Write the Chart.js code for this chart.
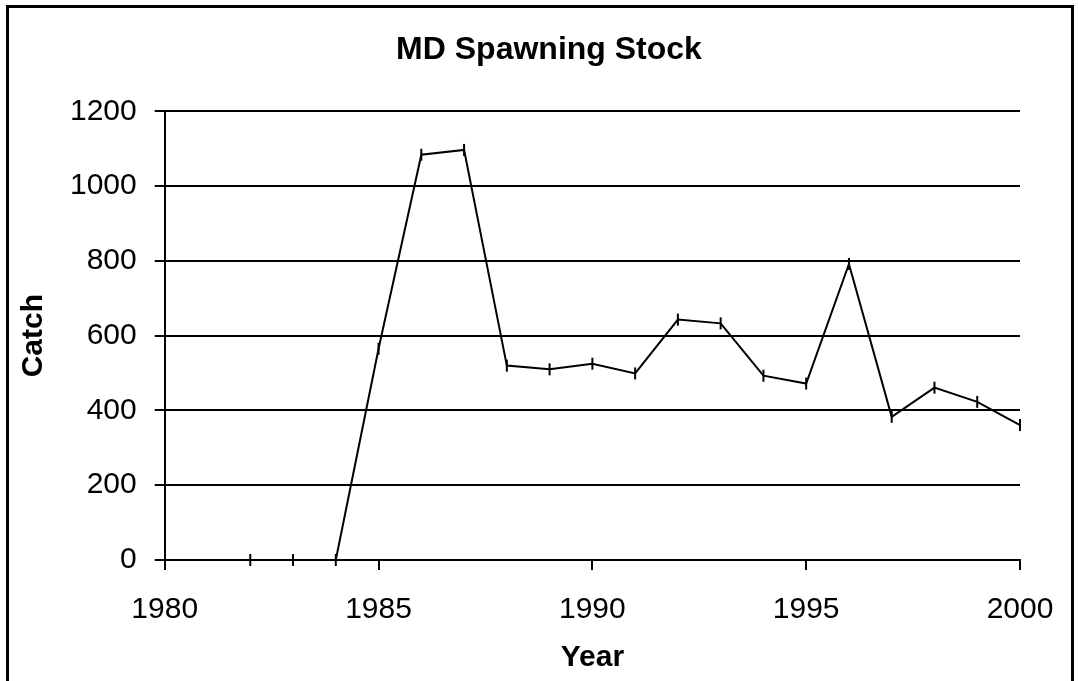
<!DOCTYPE html>
<html>
<head>
<meta charset="utf-8">
<script src="https://cdn.jsdelivr.net/npm/chart.js@4.4.0/dist/chart.umd.min.js"></script>
<style>
    html, body { margin: 0; padding: 0; background: #fff; overflow: hidden; }
    #wrap { position: relative; width: 1078px; height: 681px; }
    #frame { position: absolute; left: 6px; top: 5px; width: 1068px; height: 700px; border: 3px solid #000; box-sizing: border-box; }
    #myChart { position: absolute; left: 0; top: 0; }
</style>
</head>
<body>
<div id="wrap">
    <div id="frame"></div>
    <canvas id="myChart" width="1078" height="681"></canvas>
</div>
<script>
var years = [1982, 1983, 1984, 1985, 1986, 1987, 1988, 1989, 1990, 1991,
             1992, 1993, 1994, 1995, 1996, 1997, 1998, 1999, 2000];
var catchValues = [0, 0, 0, 565, 1084, 1097, 520, 510, 525, 499,
                   643, 633, 493, 472, 792, 383, 461, 423, 361];
var yearTicks = [1980, 1985, 1990, 1995, 2000];
var catchTicks = [0, 200, 400, 600, 800, 1000, 1200];

var fontFamily = "'Liberation Sans', Arial, sans-serif";

var points = [];
for (var i in years) {
    points.push({ x: years[i], y: catchValues[i] });
}

new Chart("myChart", {
    type: 'line',
    data: {
        datasets: [{
            data: points,
            borderColor: '#000',
            borderWidth: 2,
            tension: 0,
            fill: false,
            clip: false,
            pointStyle: 'line',
            pointRotation: 90,
            pointRadius: 6,
            pointHoverRadius: 6,
            pointBorderWidth: 2,
            pointBorderColor: '#000',
            pointBackgroundColor: '#000'
        }]
    },
    options: {
        responsive: false,
        animation: false,
        events: [],
        layout: {
            padding: { left: 20, right: 0, top: 0, bottom: 0 }
        },
        plugins: {
            legend: { display: false },
            tooltip: { enabled: false },
            title: {
                display: true,
                text: 'MD Spawning Stock',
                color: '#000',
                font: { family: fontFamily, size: 32, weight: 'bold' },
                padding: { top: 31, bottom: 42 }
            }
        },
        scales: {
            x: {
                type: 'linear',
                min: yearTicks[0],
                max: yearTicks[yearTicks.length - 1],
                afterBuildTicks: function (axis) {
                    axis.ticks = yearTicks.map(function (v) { return { value: v }; });
                },
                ticks: {
                    color: '#000',
                    padding: 22,
                    maxRotation: 0,
                    font: { family: fontFamily, size: 30 },
                    callback: function (v) { return String(v); }
                },
                grid: {
                    drawOnChartArea: false,
                    drawTicks: true,
                    tickLength: 10,
                    color: '#000',
                    lineWidth: 2
                },
                border: { display: true, color: '#000', width: 2 },
                title: {
                    display: true,
                    text: 'Year',
                    color: '#000',
                    font: { family: fontFamily, size: 30, weight: 'bold', lineHeight: 0.5 },
                    padding: { top: 0, bottom: 16 }
                }
            },
            y: {
                min: catchTicks[0],
                max: catchTicks[catchTicks.length - 1],
                afterBuildTicks: function (axis) {
                    axis.ticks = catchTicks.map(function (v) { return { value: v }; });
                },
                ticks: {
                    color: '#000',
                    padding: 18,
                    font: { family: fontFamily, size: 30 },
                    callback: function (v) { return String(v); }
                },
                grid: {
                    drawTicks: true,
                    tickLength: 10,
                    color: '#000',
                    lineWidth: 2
                },
                border: { display: true, color: '#000', width: 2 },
                title: {
                    display: true,
                    text: 'Catch',
                    color: '#000',
                    font: { family: fontFamily, size: 30, weight: 'bold', lineHeight: 0.8 },
                    padding: { top: 2, bottom: 6 }
                }
            },
            // empty right margin, the plot stops at 2000
            yRight: {
                position: 'right',
                display: true,
                grid: { display: false },
                border: { display: false },
                ticks: { display: false },
                afterFit: function (axis) {
                    axis.width = 58;
                }
            }
        }
    }
});
</script>
</body>
</html>
